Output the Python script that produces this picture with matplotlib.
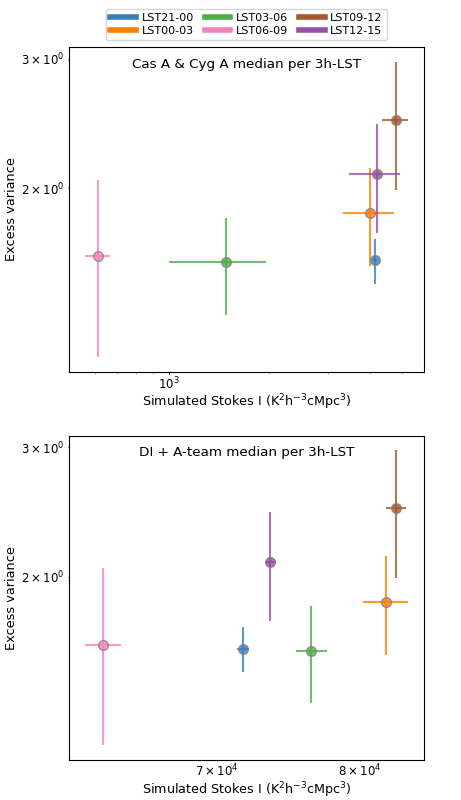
import numpy as np
import matplotlib
matplotlib.use('Agg')
import matplotlib.pyplot as plt
from matplotlib.lines import Line2D

# LST bins and colours (colour-blind friendly cycle)
lst_bins = ['LST21-00', 'LST00-03', 'LST03-06', 'LST06-09', 'LST09-12', 'LST12-15']
colors = ['#377eb8', '#ff7f00', '#4daf4a', '#f781bf', '#a65628', '#984ea3']

# excess variance: median, 16th and 84th percentile (same in both panels)
ev_med = [1.598, 1.851, 1.588, 1.618, 2.479, 2.094]
ev_lo = [1.483, 1.567, 1.347, 1.181, 1.991, 1.740]
ev_hi = [1.709, 2.134, 1.826, 2.055, 2.970, 2.448]

# simulated Stokes I, Cas A & Cyg A model
casa_med = [4146, 4013, 1480, 615, 4782, 4204]
casa_lo = [4100, 3314, 1000, 562, 4360, 3471]
casa_hi = [4195, 4730, 1956, 666, 5195, 4915]

# simulated Stokes I, DI + A-team model
di_med = [71740, 81940, 76440, 62970, 82710, 73570]
di_lo = [71340, 80220, 75380, 61920, 81940, 73250]
di_hi = [72140, 83640, 77550, 64020, 83490, 73940]

panels = [
    ('Cas A & Cyg A median per 3h-LST', casa_med, casa_lo, casa_hi),
    ('DI + A-team median per 3h-LST', di_med, di_lo, di_hi),
]

fig, axes = plt.subplots(2, 1, figsize=(4.61, 8), dpi=100)
fig.subplots_adjust(left=0.1497, right=0.9197, top=0.941, bottom=0.05, hspace=0.197)

for ax, (title, xm, xl, xh) in zip(axes, panels):
    for i in range(len(lst_bins)):
        xerr = [[xm[i] - xl[i]], [xh[i] - xm[i]]]
        yerr = [[ev_med[i] - ev_lo[i]], [ev_hi[i] - ev_med[i]]]
        ax.errorbar([xm[i]], [ev_med[i]], xerr=xerr, yerr=yerr, fmt='o',
                    color=colors[i], ms=7, mec='grey', alpha=0.8, elinewidth=1.5)
    ax.set_xscale('log')
    ax.set_yscale('log')
    ax.text(0.5, 0.948, title, transform=ax.transAxes, ha='center', va='center', fontsize=9.7)
    ax.set_xlabel(r'Simulated Stokes I (K$^2$h$^{-3}$cMpc$^3$)', fontsize=9.2, labelpad=0.5)
    ax.set_ylabel('Excess variance', fontsize=9.3, labelpad=2)
    ax.tick_params(which='major', length=1.6, pad=1.2, labelsize=8.5)
    ax.tick_params(which='minor', length=1.0, pad=1.2, labelsize=8.5)
    ax.tick_params(axis='y', which='both', pad=2.2)

handles = [Line2D([0], [0], color=c, lw=4) for c in colors]
fig.legend(handles, lst_bins, loc='upper center', bbox_to_anchor=(0.5347, 0.996),
           ncol=3, fontsize=8, handlelength=2.3, handletextpad=0.5, columnspacing=1.0,
           labelspacing=0.25, borderpad=0.4)

plt.savefig('out.png', dpi=100)
